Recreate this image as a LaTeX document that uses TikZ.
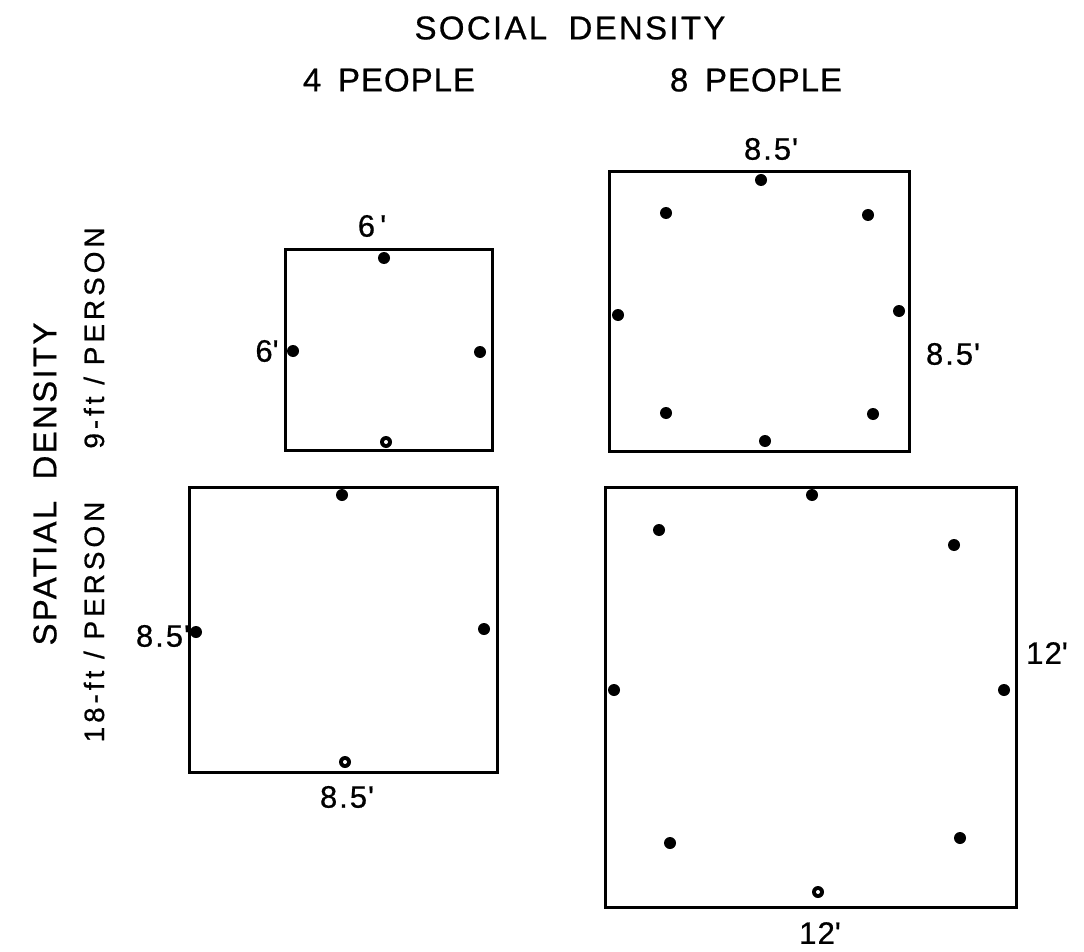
\documentclass[tikz,border=0pt]{standalone}
\usepackage{fontspec}
\setmainfont{Liberation Sans}[FakeBold=0.6]
\newcommand{\pr}{\textquotesingle}
\newcommand{\eh}{8\kern2pt.\kern2pt5\kern1pt\pr}
\begin{document}
\begin{tikzpicture}[x=1pt,y=-1pt,
  room/.style={draw=black,line width=3pt},
  seat/.style={circle,fill=black,inner sep=0pt,minimum size=12pt},
  hseat/.style={circle,fill=black,inner sep=0pt,minimum size=12pt,path picture={\fill[white] (path picture bounding box.center) circle (2pt);}},
  title/.style={font=\fontsize{33}{36}\selectfont\addfontfeature{LetterSpace=7},inner sep=0pt},
  sub/.style={font=\fontsize{33}{36}\selectfont\addfontfeature{LetterSpace=3},inner sep=0pt},
  side/.style={font=\fontsize{28}{32}\selectfont\addfontfeature{LetterSpace=14},inner sep=0pt},
  dim/.style={font=\fontsize{31}{34}\selectfont\addfontfeature{LetterSpace=4},inner sep=0pt}]
\useasboundingbox (0,0) rectangle (1084,952);
% titles
\node[title] (social) at (570,28) {SOCIAL\hspace{0.3em} DENSITY};
\node[sub] (four) at (389,80) {4\hspace{0.2em} PEOPLE};
\node[sub] (eight) at (756,80) {8\hspace{0.2em} PEOPLE};
\node[title,rotate=90] (spatial) at (45,484) {SPATIAL\hspace{0.3em} DENSITY};
\node[side,rotate=90] (nine) at (94,338) {9-ft / PERSON};
\node[side,rotate=90] (eighteen) at (94,622) {18-ft / PERSON};
% rooms
\draw[room] (285,249) rectangle (492,450);
\draw[room] (609,172) rectangle (909,451);
\draw[room] (189,487) rectangle (497,772);
\draw[room] (605,487) rectangle (1016,907);
% dimension labels
\node[dim] (a1) at (372,226) {6\,\pr};
\node[dim] (a2) at (267,351) {6\pr};
\node[dim] (b1) at (771,149) {\eh};
\node[dim] (b2) at (953,354) {\eh};
\node[dim] (c1) at (163,636) {\eh};
\node[dim] (c2) at (347,797) {\eh};
\node[dim] (d1) at (1047,653) {12\pr};
\node[dim] (d2) at (820,933) {12\pr};
% seats room A
\node[seat] (sa1) at (384,258) {};
\node[seat] (sa2) at (293,351) {};
\node[seat] (sa3) at (480,352) {};
\node[hseat] (sa4) at (386,442) {};
% seats room B
\node[seat] (sb1) at (761,180) {};
\node[seat] (sb2) at (666,213) {};
\node[seat] (sb3) at (868,215) {};
\node[seat] (sb4) at (618,315) {};
\node[seat] (sb5) at (899,311) {};
\node[seat] (sb6) at (666,413) {};
\node[seat] (sb7) at (873,414) {};
\node[seat] (sb8) at (765,441) {};
% seats room C
\node[seat] (sc1) at (342,495) {};
\node[seat] (sc2) at (196,632) {};
\node[seat] (sc3) at (484,629) {};
\node[hseat] (sc4) at (345,762) {};
% seats room D
\node[seat] (sd1) at (812,495) {};
\node[seat] (sd2) at (659,530) {};
\node[seat] (sd3) at (954,545) {};
\node[seat] (sd4) at (614,690) {};
\node[seat] (sd5) at (1004,690) {};
\node[seat] (sd6) at (670,843) {};
\node[seat] (sd7) at (960,838) {};
\node[hseat] (sd8) at (818,892) {};
\end{tikzpicture}
\end{document}
